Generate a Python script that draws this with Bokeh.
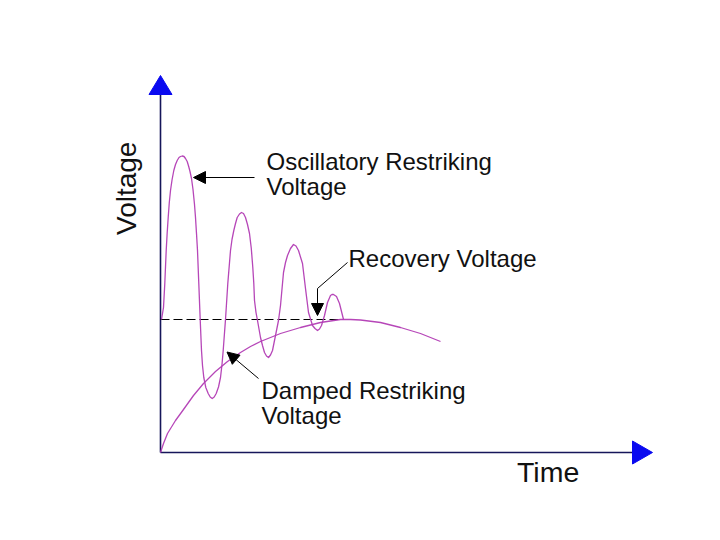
from bokeh.plotting import figure
from bokeh.models import Range1d, Arrow, NormalHead, Label
from bokeh.embed import file_html
from bokeh.resources import INLINE

# ---- data (time / voltage in drawing units) ----
osc_t = [1, 2, 3, 4.3, 5.7, 6.7, 7.7, 8.8, 10, 11.6, 13.3, 15, 16.7, 18.5, 20, 21.7,
         23.5, 25, 26.7, 28.2, 29.5, 31, 32.5, 34, 35, 36, 37, 38.3, 39.7,
         41, 42, 43.3, 45.3, 47.7, 49.7, 51.7, 53.7, 55.7, 58, 60, 61.5, 62.7, 65,
         67.3, 70, 71.5, 73.3, 75, 76.7, 79, 81, 83, 85, 87, 89, 90.8, 92.3, 93.3,
         94, 95.5, 97, 100, 102, 104, 106, 108, 110, 112, 115, 118, 120, 123, 125,
         127, 130, 133, 135.5, 138, 142, 145, 148, 152, 154.5, 157, 159, 161, 164,
         167, 170, 171.5, 173, 176, 179, 181, 183]
osc_v = [133, 139, 145, 169, 202, 220, 235, 250, 262, 273, 282, 288, 292, 295, 296,
         296.5, 296, 294, 291, 286, 281, 274, 263, 248, 235, 219, 202, 169, 133,
         102, 87, 75, 65, 59, 55.5, 54, 55.5, 59, 65.5, 75, 88, 102, 133,
         169, 202, 213, 222, 229, 235, 238.5, 240, 239, 235, 228, 219, 204, 185, 169,
         152, 140, 132, 115, 107, 100, 96.5, 95, 97.5, 102, 117, 132, 147, 180, 190,
         197, 204, 208, 206.5, 202, 189, 164, 140, 127, 124, 122, 123.5, 127, 137,
         150, 157, 158, 158, 156, 149, 141, 133]

damped_t = [0, 3, 7, 15, 23, 33, 43, 55, 67, 80, 90, 100, 120, 140, 160, 180, 190,
            200, 220, 240, 260, 280]
damped_v = [0, 9, 19, 32, 43, 57, 69, 81, 91, 100, 106, 111, 119, 125, 130, 133, 133,
            132.5, 130, 125, 119, 111]

recovery_level = 133
recovery_end_t = 180

labels = ["Oscillatory Restriking", "Voltage", "Recovery Voltage",
          "Damped Restriking", "Voltage"]
axis_titles = ["Time", "Voltage"]

# ---- layout constants ----
T_AXIS_END = 472
V_AXIS_END = 358
HEAD_LEN = 19
HEAD_W = 11.5
CURVE = "#b23cb4"
AXIS = "#16165a"
BLUE = "#0a0af0"
FONT = "Liberation Sans"

p = figure(width=704, height=524, x_range=Range1d(-160, 544), y_range=Range1d(-72, 452),
           output_backend="svg", toolbar_location=None, min_border=0,
           x_axis_location=None, y_axis_location=None)
p.grid.visible = False
p.outline_line_color = None
p.background_fill_color = "white"
p.border_fill_color = "white"

# axes
p.line([0, T_AXIS_END], [0, 0], line_color=AXIS, line_width=1.6)
p.line([0, 0], [0, V_AXIS_END], line_color=AXIS, line_width=1.6)
p.patches(
    [[T_AXIS_END, T_AXIS_END, T_AXIS_END + HEAD_LEN + 1],
     [-HEAD_W, HEAD_W, 0]],
    [[HEAD_W, -HEAD_W, 0],
     [V_AXIS_END, V_AXIS_END, V_AXIS_END + HEAD_LEN]],
    fill_color=BLUE, line_color=BLUE, line_width=1)

# recovery level (dashed)
p.line([0, recovery_end_t], [recovery_level, recovery_level], line_color="black",
       line_width=1.2, line_dash="9 4")

# curves
p.line(damped_t, damped_v, line_color=CURVE, line_width=1.3, line_alpha=0.95,
       line_join="round")
p.line(osc_t, osc_v, line_color=CURVE, line_width=1.3, line_alpha=0.95,
       line_join="round")

# annotation arrows
def head():
    return NormalHead(size=12, fill_color="black", line_color="black", line_width=1)

p.add_layout(Arrow(end=head(), x_start=94, y_start=275, x_end=33, y_end=275,
                   line_color="black", line_width=1.2))
p.line([187, 157, 157], [190, 164, 148], line_color="black", line_width=1)
p.add_layout(Arrow(end=head(), x_start=157, y_start=150, x_end=157, y_end=137,
                   line_color="black", line_width=1))
p.add_layout(Arrow(end=head(), x_start=98, y_start=74, x_end=66.5, y_end=100.5,
                   line_color="black", line_width=1))

# texts
def lab(txt, x, y, size="24px", angle=0):
    p.add_layout(Label(x=x, y=y, text=txt, text_font=FONT, text_font_size=size,
                       text_color="#111111", text_align="left",
                       text_baseline="alphabetic", angle=angle))

lab(labels[0], 106, 291)
lab(labels[1], 106, 266.5)
lab(labels[2], 188, 194)
lab(labels[3], 101, 62)
lab(labels[4], 101, 37)
lab(axis_titles[0], 356.5, -19, size="28.5px")
lab(axis_titles[1], -34, 217.5, size="28px", angle=1.5707963)

open("out.html", "w").write(file_html(p, INLINE))
